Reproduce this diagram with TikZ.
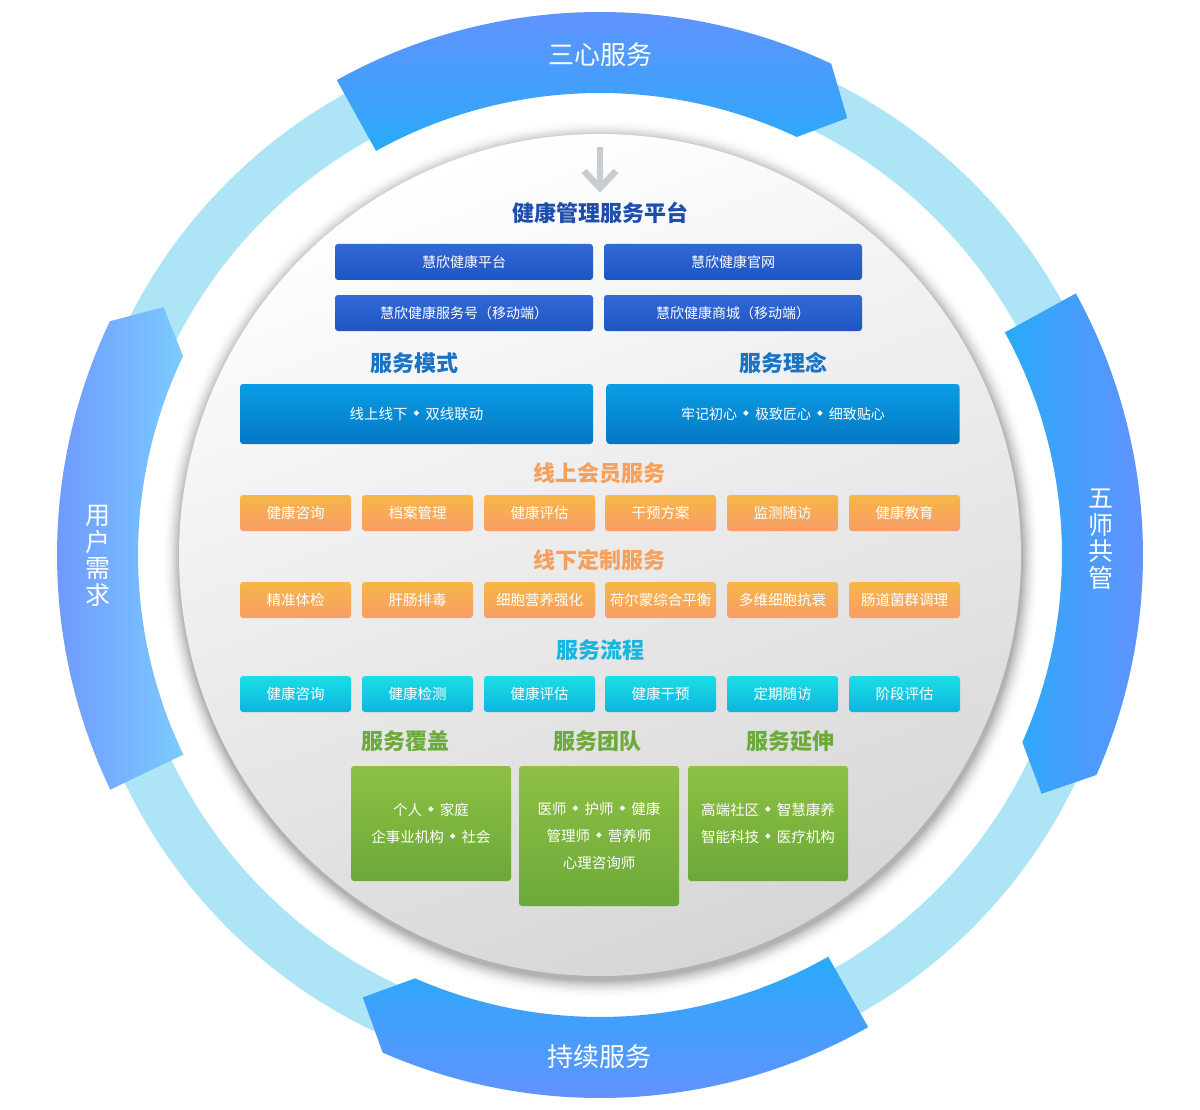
\documentclass[tikz,border=0pt]{standalone}
\usepackage{fontspec}
\setmainfont{Noto Sans CJK SC}
\newfontfamily\dejavu{DejaVu Sans}
\usetikzlibrary{calc}
\definecolor{ringlight}{HTML}{ADE5F7}
\definecolor{segout}{HTML}{6A8FFE}
\definecolor{segin}{HTML}{29AAF9}
\definecolor{lsegout}{HTML}{6D93FF}
\definecolor{lsegin}{HTML}{7CCBFF}
\definecolor{platT}{HTML}{3369D6}
\definecolor{platB}{HTML}{1F55C3}
\definecolor{modeT}{HTML}{0A9DE5}
\definecolor{modeB}{HTML}{0577C5}
\definecolor{orT}{HTML}{F6B746}
\definecolor{orB}{HTML}{F99D68}
\definecolor{cyT}{HTML}{1BDEE6}
\definecolor{cyB}{HTML}{0FB4DF}
\definecolor{grT}{HTML}{8EC044}
\definecolor{grB}{HTML}{6CA939}
\definecolor{hdplat}{HTML}{1E4EAD}
\definecolor{hdmode}{HTML}{1A74C6}
\definecolor{hdor}{HTML}{F7A05C}
\definecolor{hdcy}{HTML}{17B6E2}
\definecolor{hdgr}{HTML}{6BAA3B}
\definecolor{arrowgray}{HTML}{C6CED1}
\definecolor{circmid}{HTML}{F3F3F3}
\definecolor{circbot}{HTML}{D6D6D6}
\newcommand{\fs}[1]{\fontsize{#1}{#1}\selectfont}
\newcommand{\dia}{\hspace{6pt}{\dejavu\fontsize{7.5}{7.5}\selectfont\raisebox{4pt}{◆}}\hspace{6pt}}
\newcommand{\ringseg}[4]{%
  \shade[#4] (#1:543) arc[start angle=#1, end angle=#2, radius=543] -- (#3:502) -- (#2:462) arc[start angle=#2, end angle=#1, radius=462] -- cycle;}
\tikzset{
  basebox/.style={rounded corners=3pt, draw=none, text=white, inner sep=0pt, align=center},
  platbox/.style={basebox, top color=platT, bottom color=platB, minimum width=258pt, minimum height=36pt, font=\fs{14}},
  modebox/.style={basebox, top color=modeT, bottom color=modeB, minimum width=353pt, minimum height=60pt, font=\fs{14.5}},
  orbox/.style={basebox, top color=orT, bottom color=orB, minimum width=111pt, minimum height=36pt, font=\fs{14.5}},
  cybox/.style={basebox, top color=cyT, bottom color=cyB, minimum width=111pt, minimum height=36pt, font=\fs{14.5}},
  grbox/.style={basebox, top color=grT, bottom color=grB, minimum width=160pt, font=\fontsize{14.5}{27}\selectfont},
  heading/.style={font=\fs{22}\bfseries, inner sep=0pt},
  seglabel/.style={text=white, font=\fs{26}, inner sep=0pt},
  vseglabel/.style={text=white, font=\fontsize{25}{26.5}\selectfont, inner sep=0pt, align=center},
}
\begin{document}
\begin{tikzpicture}[x=1pt,y=1pt]
\useasboundingbox (0,0) rectangle (1200,-1110);
\fill[white] (0,0) rectangle (1200,-1110);
\begin{scope}[shift={(600,-555)}]
  % light ring
  \fill[ringlight, even odd rule] (0,0) circle (527) (0,0) circle (475);
  % arc arrows
  \ringseg{119}{64.8}{60.5}{top color=segout, bottom color=segin}
  \ringseg{28.8}{-23.9}{-28.4}{left color=segin, right color=segout}
  \ringseg{-60.4}{-113.6}{-118.2}{top color=segin, bottom color=segout}
  \ringseg{205.6}{154.5}{150.4}{left color=lsegout, right color=lsegin}
  % shadow of the inner disc
  \foreach \i in {0,...,18}{
    \pgfmathsetmacro\shd{30*(\i/18)^2}
    \fill[black!\shd] (1,-4) circle ({440-\i});
  }
  % inner disc
  \shade[top color=white, middle color=circmid, bottom color=circbot, shading angle=20] (0,0) circle (421);
\end{scope}

% ring labels
\node[seglabel] (l3x) at (600,-55) {三心服务};
\node[seglabel] (lcx) at (599,-1057) {持续服务};
\node[vseglabel] (l5s) at (1101,-539) {五\\师\\共\\管};
\node[vseglabel] (lyh) at (98,-556) {用\\户\\需\\求};

% arrow
\coordinate (arrtop) at (600,-147);
\coordinate (arrbot) at (600,-186);
\coordinate (arrl) at (584,-171);
\coordinate (arrr) at (616,-171);
\draw[arrowgray, line width=6.5pt] (arrtop) -- (arrbot);
\draw[arrowgray, line width=6.5pt, miter limit=10] (arrl) -- ($(arrbot)+(0,-2)$) -- (arrr);

% platform
\node[heading, text=hdplat] (hplat) at (600,-213) {健康管理服务平台};
\node[platbox] (p1) at (464,-262) {慧欣健康平台};
\node[platbox] (p2) at (733,-262) {慧欣健康官网};
\node[platbox] (p3) at (464,-313) {慧欣健康服务号（移动端）};
\node[platbox] (p4) at (733,-313) {慧欣健康商城（移动端）};

% mode / idea
\node[heading, text=hdmode] (hmode) at (414,-363) {服务模式};
\node[heading, text=hdmode] (hidea) at (783,-363) {服务理念};
\node[modebox] (m1) at (416.5,-414) {线上线下\dia 双线联动};
\node[modebox, font=\fs{14}] (m2) at (783,-414) {牢记初心\dia 极致匠心\dia 细致贴心};

% online member service
\node[heading, text=hdor] (hon) at (599,-473) {线上会员服务};
\node[orbox] (o1) at (295.5,-513) {健康咨询};
\node[orbox] (o2) at (417.5,-513) {档案管理};
\node[orbox] (o3) at (539.5,-513) {健康评估};
\node[orbox] (o4) at (660.5,-513) {干预方案};
\node[orbox] (o5) at (782.5,-513) {监测随访};
\node[orbox] (o6) at (904.5,-513) {健康教育};

% offline custom service
\node[heading, text=hdor] (hoff) at (599,-560) {线下定制服务};
\node[orbox] (f1) at (295.5,-600) {精准体检};
\node[orbox] (f2) at (417.5,-600) {肝肠排毒};
\node[orbox] (f3) at (539.5,-600) {细胞营养强化};
\node[orbox] (f4) at (660.5,-600) {荷尔蒙综合平衡};
\node[orbox] (f5) at (782.5,-600) {多维细胞抗衰};
\node[orbox] (f6) at (904.5,-600) {肠道菌群调理};

% process
\node[heading, text=hdcy] (hproc) at (600,-650) {服务流程};
\node[cybox] (c1) at (295.5,-694) {健康咨询};
\node[cybox] (c2) at (417.5,-694) {健康检测};
\node[cybox] (c3) at (539.5,-694) {健康评估};
\node[cybox] (c4) at (660.5,-694) {健康干预};
\node[cybox] (c5) at (782.5,-694) {定期随访};
\node[cybox] (c6) at (904.5,-694) {阶段评估};

% coverage / team / extension
\node[heading, text=hdgr] (hcov) at (405,-741) {服务覆盖};
\node[heading, text=hdgr] (hteam) at (597,-741) {服务团队};
\node[heading, text=hdgr] (hext) at (790,-741) {服务延伸};
\node[grbox, minimum height=115pt] (g1) at (431,-823.5) {个人\dia 家庭\\企事业机构\dia 社会};
\node[grbox, minimum height=140pt] (g2) at (599,-836) {医师\dia 护师\dia 健康\\管理师\dia 营养师\\心理咨询师};
\node[grbox, minimum height=115pt] (g3) at (768,-823.5) {高端社区\dia 智慧康养\\智能科技\dia 医疗机构};
\end{tikzpicture}
\end{document}
